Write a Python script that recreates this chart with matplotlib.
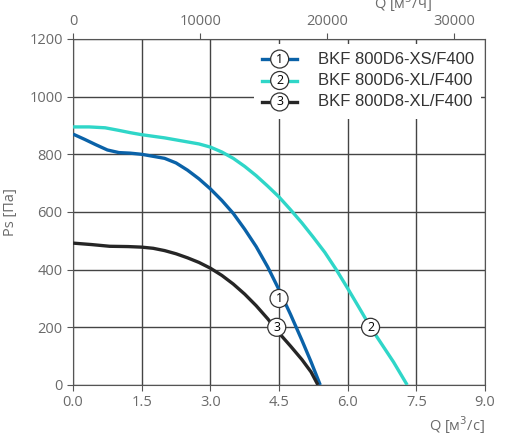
import matplotlib
matplotlib.use("Agg")
import matplotlib.pyplot as plt

# curve data (Q in m3/s, Ps in Pa)
q1 = [0, 0.25, 0.5, 0.75, 1.0, 1.25, 1.5, 1.75, 2.0, 2.25, 2.5, 2.75, 3.0, 3.25, 3.5, 3.75, 4.0, 4.25, 4.5, 4.75, 5.0, 5.2, 5.4]
p1 = [870, 852, 833, 815, 806, 804, 800, 793, 786, 770, 745, 715, 680, 640, 595, 540, 480, 410, 330, 245, 155, 80, 0]
q2 = [0, 0.35, 0.7, 1.0, 1.25, 1.5, 2.0, 2.5, 2.75, 3.0, 3.25, 3.5, 3.75, 4.0, 4.25, 4.5, 4.75, 5.0, 5.25, 5.5, 5.75, 6.0, 6.25, 6.5, 6.75, 7.0, 7.3]
p2 = [895, 895, 892, 883, 875, 868, 857, 843, 836, 825, 808, 786, 758, 726, 690, 652, 608, 562, 512, 460, 400, 335, 268, 200, 140, 80, 0]
q3 = [0, 0.4, 0.8, 1.2, 1.5, 1.75, 2.0, 2.25, 2.5, 2.75, 3.0, 3.25, 3.5, 3.75, 4.0, 4.25, 4.5, 4.75, 5.0, 5.2, 5.35]
p3 = [492, 487, 481, 480, 478, 474, 466, 455, 441, 425, 405, 380, 350, 315, 275, 230, 180, 135, 88, 45, 0]
labels = ["BKF 800D6-XS/F400", "BKF 800D6-XL/F400", "BKF 800D8-XL/F400"]
colors = ["#0a62a8", "#2fd6c8", "#262626"]
tags = [(4.5, 300, "1"), (6.5, 200, "2"), (4.45, 200, "3")]

fig = plt.figure(figsize=(5.26, 4.43), dpi=100)
ax = fig.add_axes([0.139, 0.131, 0.783, 0.781])
tick_col = "#6a6a6a"
font = "Open Sans"

for q, p, c in zip([q1, q2, q3], [p1, p2, p3], colors):
    ax.plot(q, p, color=c, lw=2.4, zorder=3, solid_capstyle="butt", solid_joinstyle="round")
for x, y, t in tags:
    ax.text(x, y, t, ha="center", va="center", fontsize=9, family=font, zorder=5,
            bbox=dict(boxstyle="circle,pad=0.2", fc="white", ec="#333333", lw=0.9))

ax.set_xlim(0, 9); ax.set_ylim(0, 1200)
ax.set_xticks([0, 1.5, 3.0, 4.5, 6.0, 7.5, 9.0])
ax.set_xticklabels(["0.0", "1.5", "3.0", "4.5", "6.0", "7.5", "9.0"])
ax.set_yticks(range(0, 1201, 200))
ax.grid(color="#444444", lw=1.0, zorder=1)
for s in ax.spines.values():
    s.set_color("#555555")
ax.tick_params(colors="#555555", labelcolor=tick_col, labelsize=10.5, direction="out", length=4)
for lb in ax.get_xticklabels() + ax.get_yticklabels():
    lb.set_family(font)
ax.set_ylabel("Ps [Па]", color=tick_col, fontsize=10.5, family=font, labelpad=8)
ax.text(1.0, -0.085, "Q [м$^3$/с]", transform=ax.transAxes, ha="right", va="top",
        color=tick_col, fontsize=10.5, family=font)

top = ax.twiny()
top.set_xlim(0, 9 * 3600)
top.set_xticks([0, 10000, 20000, 30000])
top.tick_params(colors="#555555", labelcolor=tick_col, labelsize=10.5, length=4)
for lb in top.get_xticklabels():
    lb.set_family(font)
for s in top.spines.values():
    s.set_visible(False)
top.text(0.80, 1.105, "Q [м$^3$/ч]", transform=ax.transAxes, ha="center", va="center",
         color=tick_col, fontsize=10.5, family=font)

# legend drawn by hand
ax.add_patch(plt.Rectangle((0.44, 0.77), 0.55, 0.215, transform=ax.transAxes,
                           fc="white", ec="none", zorder=4))
for i, (lab, c) in enumerate(zip(labels, colors)):
    y = 0.942 - i * 0.062
    ax.plot([0.459, 0.544], [y, y], color=c, lw=2.4, transform=ax.transAxes, zorder=5)
    ax.text(0.5015, y, str(i + 1), transform=ax.transAxes, ha="center", va="center",
            fontsize=9, family=font, zorder=6,
            bbox=dict(boxstyle="circle,pad=0.2", fc="white", ec="#333333", lw=0.9))
    ax.text(0.594, y, lab, transform=ax.transAxes, ha="left", va="center",
            fontsize=12, color="#333333", family="Liberation Sans", zorder=6)

fig.savefig("out.png", dpi=100)
